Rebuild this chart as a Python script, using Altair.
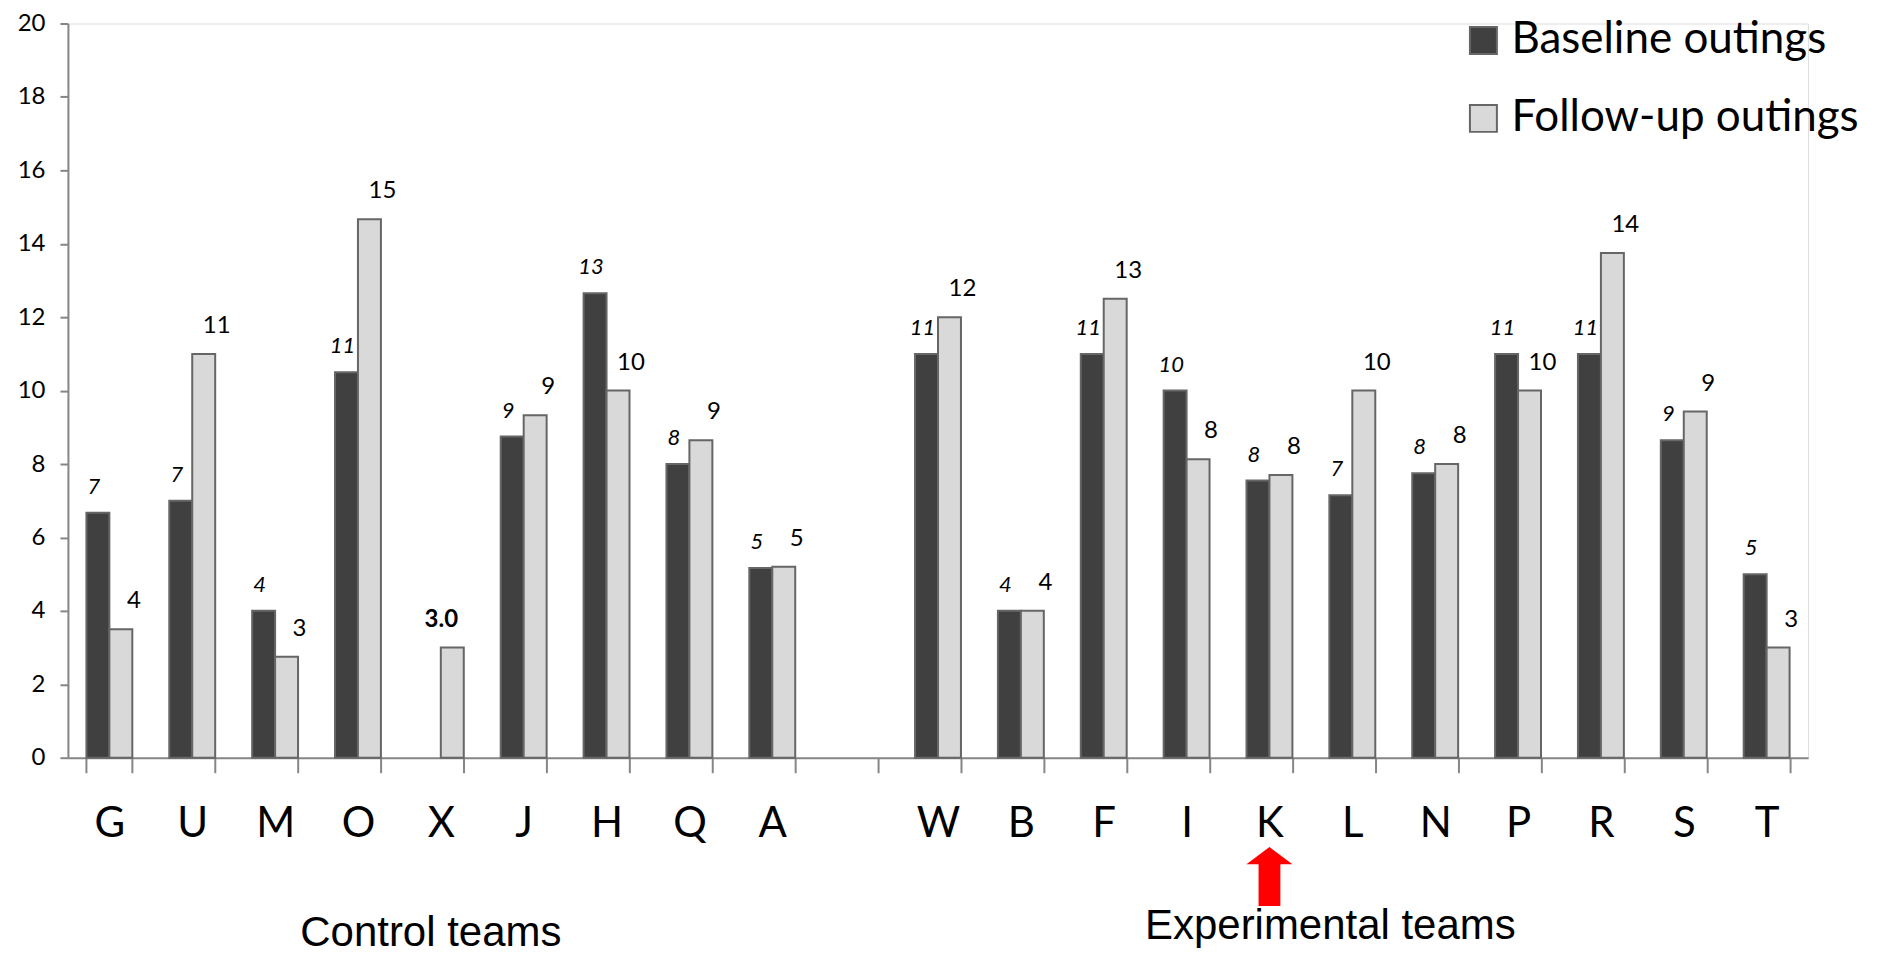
import altair as alt
import pandas as pd

teams = ["G", "U", "M", "O", "X", "J", "H", "Q", "A", " ",
         "W", "B", "F", "I", "K", "L", "N", "P", "R", "S", "T"]
baseline = [6.67, 7.0, 4.0, 10.5, None, 8.75, 12.65, 8.0, 5.17, None,
            11.0, 4.0, 11.0, 10.0, 7.55, 7.15, 7.75, 11.0, 11.0, 8.65, 5.0]
followup = [3.5, 11.0, 2.75, 14.67, 3.0, 9.33, 10.0, 8.65, 5.2, None,
            12.0, 4.0, 12.5, 8.13, 7.7, 10.0, 8.0, 10.0, 13.75, 9.43, 3.0]
base_labels = ["7", "7", "4", "11", "", "9", "13", "8", "5", "",
               "11", "4", "11", "10", "8", "7", "8", "11", "11", "9", "5"]
follow_labels = ["4", "11", "3", "15", "3.0", "9", "10", "9", "5", "",
                 "12", "4", "13", "8", "8", "10", "8", "10", "14", "9", "3"]
series = ["Baseline outings", "Follow-up outings"]
bold_teams = ["X"]
arrow_team = ["K"]
group_titles = ["Control teams", "Experimental teams"]
group_anchor = ["X", "L"]

rows = []
for t, b, f, bl, fl in zip(teams, baseline, followup, base_labels, follow_labels):
    if b is not None:
        rows.append({"team": t, "series": series[0], "value": b, "label": bl,
                     "bold": t in bold_teams})
    if f is not None:
        rows.append({"team": t, "series": series[1], "value": f, "label": fl,
                     "bold": t in bold_teams})
df = pd.DataFrame(rows)

CAL = "Lato"
ARIAL = "Liberation Sans"
AXC = "#868686"

xs = alt.Scale(domain=teams, paddingInner=0.446, paddingOuter=0.223)
ys = alt.Scale(domain=[0, 20], nice=False)
xo = alt.XOffset("series:N", scale=alt.Scale(domain=series))

x_enc = alt.X("team:N", scale=xs, sort=None,
              axis=alt.Axis(title=None, labelAngle=0, labelFont=CAL, labelFontSize=42,
                            labelColor="black", labelPadding=31, tickSize=15,
                            tickBand="extent", tickColor=AXC, tickWidth=2,
                            domainColor=AXC, domainWidth=2, grid=False))
y_enc = alt.Y("value:Q", scale=ys,
              axis=alt.Axis(title=None, values=list(range(0, 21, 2)), labelFont=CAL,
                            labelFontSize=24, labelColor="black", labelPadding=15,
                            tickSize=8, tickColor=AXC, tickWidth=2,
                            domainColor=AXC, domainWidth=2, grid=False))

base = alt.Chart(df)

bars = base.mark_bar(stroke="#666666", strokeWidth=2).encode(
    x=x_enc, y=y_enc, xOffset=xo,
    color=alt.Color("series:N",
                    scale=alt.Scale(domain=series, range=["#404040", "#D9D9D9"]),
                    legend=alt.Legend(title=None, orient="none", legendX=1395, legendY=-5,
                                      labelFont=CAL, labelFontSize=44, labelColor="black",
                                      labelLimit=0,
                                      symbolType="square", symbolSize=729,
                                      symbolStrokeColor="#666666", symbolStrokeWidth=2,
                                      labelOffset=6, rowPadding=34, padding=0)),
)

base_text = base.transform_filter(alt.datum.series == series[0]).mark_text(
    font=CAL, fontSize=22, fontStyle="italic", color="black",
    baseline="bottom", dx=-4, dy=-14
).encode(x=alt.X("team:N", scale=xs, sort=None), xOffset=xo,
         y=alt.Y("value:Q", scale=ys), text="label:N")

follow_text = base.transform_filter(
    (alt.datum.series == series[1]) & (alt.datum.bold == False)
).mark_text(
    font=CAL, fontSize=24, color="black", baseline="bottom", dx=13, dy=-16
).encode(x=alt.X("team:N", scale=xs, sort=None), xOffset=xo,
         y=alt.Y("value:Q", scale=ys), text="label:N")

bold_text = base.transform_filter(
    (alt.datum.series == series[1]) & (alt.datum.bold == True)
).mark_text(
    font=CAL, fontSize=24, fontWeight="bold", color="black", baseline="bottom",
    dx=-11, dy=-16
).encode(x=alt.X("team:N", scale=xs, sort=None), xOffset=xo,
         y=alt.Y("value:Q", scale=ys), text="label:N")

arrow_shape = "M0,-1 L0.78,-0.42 L0.37,-0.42 L0.37,1 L-0.37,1 L-0.37,-0.42 L-0.78,-0.42 Z"
arrow = alt.Chart(pd.DataFrame({"team": arrow_team})).mark_point(
    shape=arrow_shape, filled=True, color="#FF0000", size=3481, opacity=1, strokeWidth=0
).encode(x=alt.X("team:N", scale=xs, sort=None), y=alt.value(854))

title_df = pd.DataFrame({"team": group_anchor, "title": group_titles})
ctrl_title = alt.Chart(title_df).transform_filter(alt.datum.title == group_titles[0]).mark_text(
    font=ARIAL, fontSize=42, color="black", baseline="middle", dx=-10
).encode(x=alt.X("team:N", scale=xs, sort=None), y=alt.value(910), text="title:N")
exp_title = alt.Chart(title_df).transform_filter(alt.datum.title == group_titles[1]).mark_text(
    font=ARIAL, fontSize=42, color="black", baseline="middle", dx=-22
).encode(x=alt.X("team:N", scale=xs, sort=None), y=alt.value(903), text="title:N")

chart = alt.layer(bars, base_text, follow_text, bold_text, arrow, ctrl_title, exp_title).properties(
    width=1742, height=735,
    autosize=alt.AutoSizeParams(type="none"),
    padding={"left": 60, "top": 15, "right": 65, "bottom": 197},
).configure_view(stroke=None).configure(background="white")

chart.save("out.html", embed_options={"renderer": "svg", "actions": False})
